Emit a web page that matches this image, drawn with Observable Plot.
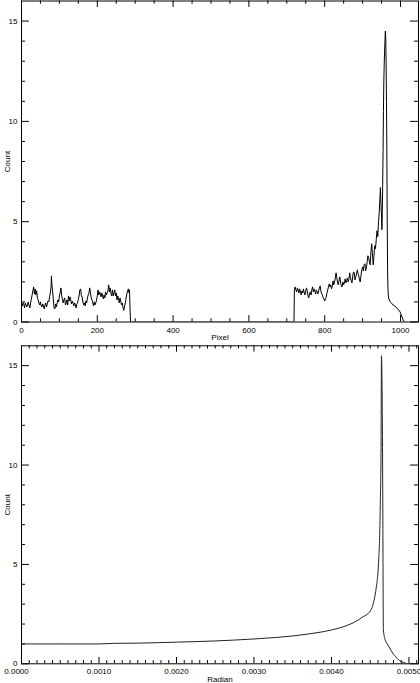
<!DOCTYPE html>
<html>
<head>
<meta charset="utf-8">
<script src="https://cdn.jsdelivr.net/npm/d3@7"></script>
<script src="https://cdn.jsdelivr.net/npm/@observablehq/plot@0.6"></script>
<style>
  html, body { margin: 0; padding: 0; background: #fff; }
  svg { display: block; }
</style>
</head>
<body>
<div id="top"></div>
<div id="bottom"></div>
<script>
// ---- Top panel data: Count vs Pixel ----
const pixelX = [
  0,2,4,6,8,10,12,14,16,18,20,22,24,26,28,30,32,34,36,38,40,42,44,46,48,50,52,54,56,58,60,62,64,66,68,70,72,74,76,78,79,80,
  82,84,86,88,90,92,94,96,98,100,102,104,106,108,110,112,114,116,118,120,122,124,126,128,130,132,134,136,138,140,142,144,
  146,148,150,152,154,156,158,160,162,164,166,168,170,172,174,176,178,180,182,184,186,188,190,192,194,196,198,200,202,204,
  206,208,210,212,214,216,218,220,222,224,226,228,230,232,234,236,238,240,242,244,246,248,250,252,254,256,258,260,262,264,
  266,268,270,272,274,276,278,280,282,284,285,286,287,288,
  719,720,722,724,726,728,730,732,734,736,738,740,742,744,746,748,750,752,754,756,758,760,762,764,766,768,770,772,774,776,
  778,780,782,784,786,788,790,792,794,796,798,800,802,804,806,808,810,812,814,816,818,820,822,824,826,828,830,832,834,836,
  838,840,842,844,846,848,850,852,854,856,858,860,862,864,866,868,870,872,874,876,878,880,882,884,886,888,890,892,894,896,
  898,900,902,904,906,908,910,912,914,916,918,920,922,924,926,928,930,932,934,936,938,940,942,944,946,947,948,950,951,952,
  953,954,955,956,957,958,959,960,961,962,963,964,965,966,967,968,970,973,976,980,985,990,995,999,1002,1005,1008,1010
];
const pixelCount = [
  1.0,0.8,0.95,0.9,0.7,0.95,0.85,0.75,0.9,1.0,0.8,0.7,0.95,1.15,1.35,1.55,1.75,1.4,1.65,1.35,1.55,1.2,1.1,0.95,0.85,1.0,0.8,0.75,0.9,0.8,0.65,0.85,0.95,0.75,0.9,1.05,1.0,1.25,1.45,1.75,2.3,1.9,
  1.55,1.1,0.7,0.65,0.9,0.75,0.95,1.1,1.0,1.3,1.45,1.7,1.3,1.15,0.95,1.1,1.2,0.85,0.95,1.1,0.85,1.3,1.05,1.25,1.1,0.9,1.05,0.95,0.8,0.95,0.85,0.7,
  0.9,0.95,1.15,1.3,1.6,1.65,1.3,1.25,1.0,0.85,0.95,0.8,1.05,0.95,1.2,1.35,1.45,1.7,1.45,1.2,1.1,0.95,0.8,1.0,0.85,0.95,1.1,1.3,1.6,1.35,
  1.5,1.4,1.25,1.45,1.3,1.15,1.35,1.2,1.5,1.35,1.45,1.55,1.85,1.5,1.7,1.45,1.3,1.6,1.3,1.45,1.6,1.3,1.45,1.1,1.3,1.15,0.95,1.2,1.0,0.85,
  0.95,0.7,0.58,0.8,0.95,1.2,1.4,1.55,1.65,1.45,1.6,0.9,0.3,0,
  0,1.6,1.75,1.6,1.5,1.7,1.6,1.45,1.65,1.5,1.35,1.55,1.45,1.65,1.45,1.35,1.55,1.7,1.55,1.3,1.2,1.4,1.5,1.35,1.6,1.75,1.5,1.65,1.55,1.4,
  1.6,1.5,1.4,1.55,1.7,1.8,1.55,1.4,1.35,1.2,1.15,1.05,1.15,1.25,1.45,1.6,1.75,1.9,1.75,1.85,1.65,1.8,2.05,1.85,2.0,2.2,2.45,2.2,1.95,1.85,
  2.1,2.25,1.95,1.8,1.75,2.0,1.85,1.95,2.15,1.95,2.05,2.2,2.0,2.15,2.45,2.2,2.05,1.95,2.3,2.5,2.45,2.1,2.25,2.4,2.6,2.4,2.3,2.05,2.0,2.35,
  2.6,2.75,2.55,2.85,2.9,2.55,2.7,3.0,3.3,3.2,3.0,2.85,3.5,3.9,3.4,2.85,3.3,3.8,3.65,4.1,4.55,4.25,5.0,5.5,6.3,6.7,6.1,5.2,4.6,5.5,
  6.8,8.5,10.5,12.0,12.8,13.5,14.0,14.5,14.2,13.0,11.0,8.5,5.0,2.5,1.6,1.3,1.1,1.0,0.95,0.85,0.8,0.7,0.6,0.5,0.35,0.2,0.05,0
];

// ---- Bottom panel data: Count vs Radian ----
const radianX = [
  0,0.0005,0.0010,0.0012,0.0015,0.0020,0.0025,0.0030,0.0033,0.0035,0.0037,0.0039,0.0040,0.0041,0.0042,0.0043,0.0044,
  0.0045,0.00453,0.00456,0.00458,0.0046,0.00461,0.00462,0.00463,0.00464,0.004645,0.00466,0.00467,0.00469,0.00472,0.00475,
  0.00478,0.0048,0.00483,0.00486,0.0049,0.00494,0.00498,0.0050
];
const radianCount = [
  1.0,1.0,1.0,1.03,1.04,1.09,1.15,1.25,1.33,1.40,1.50,1.62,1.70,1.80,1.93,2.10,2.35,
  2.65,2.9,3.4,3.9,4.6,5.3,6.2,8.0,11.0,15.5,10.0,1.7,1.25,1.0,0.8,
  0.6,0.48,0.35,0.22,0.12,0.05,0.01,0.0
];

// ---- Tick values ----
const pixelMajor = [0,200,400,600,800,1000];
const pixelMinor = d3.range(50, 1001, 50).filter(v => v % 200 !== 0);
const radianMajor = [0,0.001,0.002,0.003,0.004,0.005];
const radianMinor = d3.range(1, 52).filter(i => i % 10 !== 0).map(i => i / 10000);
const countMajor = [0,5,10,15];
const countMinor = d3.range(1, 16).filter(v => v % 5 !== 0);

const W = 420;
const FONT = "Liberation Sans, Arial, Helvetica, sans-serif";

function panel({xs, ys, xDomain, xMajor, xMinor, fmt, xLabel, height, mt, mb, ml, mr, lineColor, curve, firstDx}) {
  const ph = height - mt - mb, pw = W - ml - mr;
  const xMajLen = 0.02 * ph, xMinLen = 0.01 * ph;
  const yMajLen = 0.02 * pw, yMinLen = 0.01 * pw;
  const rows = xs.map((x, i) => ({x, y: ys[i]}));
  return Plot.plot({
    width: W, height,
    marginTop: mt, marginBottom: mb, marginLeft: ml, marginRight: mr,
    style: {fontFamily: FONT, fontSize: "8px", background: "white", color: "black"},
    x: {domain: xDomain, axis: null},
    y: {domain: [0, 16], axis: null},
    marks: [
      Plot.frame({stroke: "black", strokeWidth: 1}),
      Plot.tickX(xMajor, {x: d => d, insetTop: ph - xMajLen, stroke: "black"}),
      Plot.tickX(xMajor, {x: d => d, insetBottom: ph - xMajLen, stroke: "black"}),
      Plot.tickX(xMinor, {x: d => d, insetTop: ph - xMinLen, stroke: "black"}),
      Plot.tickX(xMinor, {x: d => d, insetBottom: ph - xMinLen, stroke: "black"}),
      Plot.tickY(countMajor, {y: d => d, insetRight: pw - yMajLen, stroke: "black"}),
      Plot.tickY(countMajor, {y: d => d, insetLeft: pw - yMajLen, stroke: "black"}),
      Plot.tickY(countMinor, {y: d => d, insetRight: pw - yMinLen, stroke: "black"}),
      Plot.tickY(countMinor, {y: d => d, insetLeft: pw - yMinLen, stroke: "black"}),
      Plot.axisX({anchor: "bottom", ticks: xMajor.slice(1), tickSize: 0, tickPadding: 5, tickFormat: fmt,
        label: xLabel, labelAnchor: "center", labelOffset: 18, labelArrow: "none", fontSize: 8}),
      Plot.axisX({anchor: "bottom", ticks: xMajor.slice(0, 1), tickSize: 0, tickPadding: 5, tickFormat: fmt,
        label: null, dx: firstDx, fontSize: 8}),
      Plot.axisY({anchor: "left", ticks: countMajor, tickSize: 0, tickPadding: 4,
        label: "Count", labelAnchor: "center", labelOffset: 17, labelArrow: "none", fontSize: 8}),
      Plot.line(rows, {x: "x", y: "y", stroke: lineColor, strokeWidth: 1, curve, clip: true})
    ]
  });
}

document.getElementById("top").append(panel({
  xs: pixelX, ys: pixelCount, xDomain: [0, 1047.5],
  xMajor: pixelMajor, xMinor: pixelMinor, fmt: d3.format("d"), xLabel: "Pixel",
  height: 341, mt: 0.5, mb: 19.5, ml: 21, mr: 2, lineColor: "black", curve: "linear", firstDx: 0
}));
document.getElementById("bottom").append(panel({
  xs: radianX, ys: radianCount, xDomain: [0, 0.005123],
  xMajor: radianMajor, xMinor: radianMinor, fmt: d3.format(".4f"), xLabel: "Radian",
  height: 342, mt: 4.3, mb: 19.7, ml: 21, mr: 2, lineColor: "#222", curve: "monotone-x", firstDx: -5
}));
</script>
</body>
</html>
